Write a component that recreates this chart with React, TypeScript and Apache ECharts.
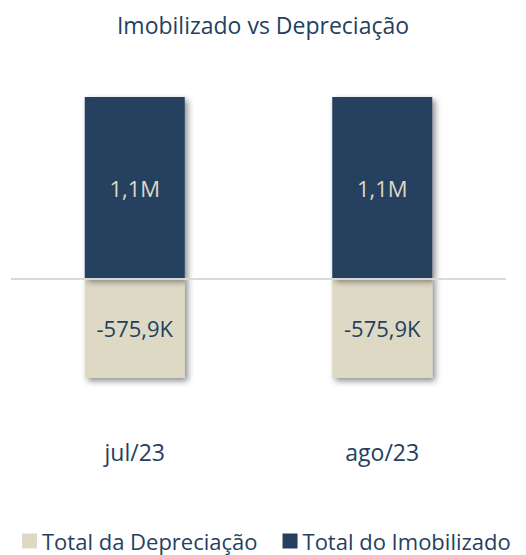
import React, { useEffect, useRef } from "react";
import * as echarts from "echarts";

const TITLE = "Imobilizado vs Depreciação";
const categories = ["jul/23", "ago/23"];
const depreciacao = [-575900, -575900];
const imobilizado = [1052000, 1052000];
const seriesNames = ["Total da Depreciação", "Total do Imobilizado"];

const NAVY = "#253F5F";
const BEIGE = "#DDD9C4";
const FONT = "'Open Sans', sans-serif";

function fmt(v: number): string {
  const a = Math.abs(v);
  if (a >= 1e6) return (v / 1e6).toFixed(1).replace(".", ",") + "M";
  if (a >= 1e3) return (v / 1e3).toFixed(1).replace(".", ",") + "K";
  return String(v);
}

export default function App() {
  const ref = useRef<HTMLDivElement>(null);
  useEffect(() => {
    document.body.style.margin = "0";
    if (!ref.current) return;
    const chart = echarts.init(ref.current, null, { renderer: "svg" });
    const shadow = {
      shadowColor: "rgba(0,0,0,0.45)",
      shadowBlur: 6,
      shadowOffsetX: 3,
      shadowOffsetY: 3,
    };
    chart.setOption({
      animation: false,
      backgroundColor: "#ffffff",
      title: {
        text: TITLE,
        left: "center",
        top: 8,
        textStyle: { fontFamily: FONT, fontSize: 23, fontWeight: "normal", color: NAVY },
      },
      legend: {
        data: seriesNames,
        bottom: -2,
        left: 17,
        icon: "rect",
        itemWidth: 15,
        itemHeight: 15,
        itemGap: 25,
        textStyle: { fontFamily: FONT, fontSize: 22, color: NAVY },
      },
      grid: { left: 11, right: 20, top: 97, bottom: 177, containLabel: false },
      xAxis: {
        type: "category",
        data: categories,
        axisLine: { show: false, onZero: false },
        axisTick: { show: false },
        axisLabel: { margin: 62, fontFamily: FONT, fontSize: 23, color: NAVY },
      },
      yAxis: {
        type: "value",
        min: -575900,
        max: 1052000,
        show: false,
        splitLine: { show: false },
      },
      series: [
        {
          name: seriesNames[0],
          type: "bar",
          stack: "total",
          barWidth: 100,
          data: depreciacao,
          itemStyle: { color: BEIGE, ...shadow },
          label: {
            show: true,
            position: "inside",
            formatter: (p: any) => fmt(p.value),
            fontFamily: FONT,
            fontSize: 22,
            color: NAVY,
          },
          markLine: {
            silent: true,
            symbol: "none",
            label: { show: false },
            lineStyle: { color: "#D9D9D9", width: 2, type: "solid" },
            data: [{ yAxis: 0 }],
          },
        },
        {
          name: seriesNames[1],
          type: "bar",
          stack: "total",
          barWidth: 100,
          data: imobilizado,
          itemStyle: { color: NAVY, ...shadow },
          label: {
            show: true,
            position: "inside",
            formatter: (p: any) => fmt(p.value),
            fontFamily: FONT,
            fontSize: 22,
            color: BEIGE,
          },
        },
      ],
    });
    return () => chart.dispose();
  }, []);
  return <div ref={ref} style={{ width: 526, height: 555 }} />;
}
